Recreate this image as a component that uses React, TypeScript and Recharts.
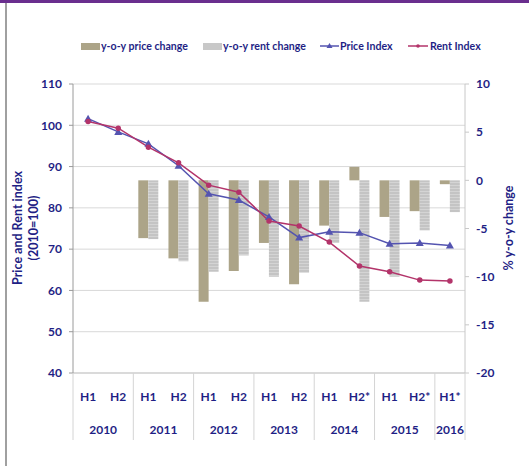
import React from "react";
import {
  Bar,
  CartesianGrid,
  ComposedChart,
  Label,
  Line,
  XAxis,
  YAxis,
} from "recharts";

const periods = ["H1", "H2", "H1", "H2", "H1", "H2", "H1", "H2", "H1", "H2*", "H1", "H2*", "H1*"];
const years = ["2010", "2010", "2011", "2011", "2012", "2012", "2013", "2013", "2014", "2014", "2015", "2015", "2016"];
const priceIndex = [101.6, 98.4, 95.5, 90.2, 83.4, 81.9, 77.8, 72.8, 74.2, 74.0, 71.3, 71.5, 70.9];
const rentIndex = [100.9, 99.3, 94.7, 90.9, 85.5, 83.8, 76.8, 75.6, 71.7, 65.9, 64.5, 62.5, 62.3];
const priceChange = [null, null, -6.0, -8.1, -12.6, -9.4, -6.5, -10.8, -4.7, 1.4, -3.8, -3.2, -0.4];
const rentChange = [null, null, -6.1, -8.4, -9.5, -7.8, -10.0, -9.6, -6.5, -12.6, -10.0, -5.2, -3.3];
const leftTicks = [40, 50, 60, 70, 80, 90, 100, 110];
const rightTicks = [-20, -15, -10, -5, 0, 5, 10];

const W = 529;
const H = 466;
const LEFT_W = 73;
const RIGHT_W = 64;
const TOP = 84;
const X_H = 93;
const PLOT_W = W - LEFT_W - RIGHT_W;

const NAVY = "#1f1f85";
const FONT = "Lato, 'DejaVu Sans', sans-serif";
const PRICE_BAR = "#aca488";
const RENT_BAR = "#c8c8c8";
const PRICE_LINE = "#5454b0";
const RENT_LINE = "#b3346a";

const data = periods.map((p, i) => ({
  cat: `${years[i]} ${p}`,
  priceIndex: priceIndex[i],
  rentIndex: rentIndex[i],
  priceChange: priceChange[i],
  rentChange: rentChange[i],
}));

function PeriodTick(props: any) {
  const { x, y, index } = props;
  const step = PLOT_W / periods.length;
  const year = years[index];
  const first = index === 0 || years[index - 1] !== year;
  const last = index === periods.length - 1;
  const span = years.filter((v) => v === year).length;
  const style = { fontFamily: FONT, fontWeight: 700, fontSize: 12, fill: NAVY };
  return (
    <g>
      <text x={x} y={y + 28} textAnchor="middle" style={style}>
        {periods[index]}
      </text>
      {first && (
        <line x1={x - step / 2} x2={x - step / 2} y1={y} y2={y + 67} stroke="#d4d4d4" />
      )}
      {first && (
        <text x={x + ((span - 1) * step) / 2} y={y + 61} textAnchor="middle" style={style}>
          {year}
        </text>
      )}
      {last && (
        <line x1={x + step / 2} x2={x + step / 2} y1={y} y2={y + 67} stroke="#d4d4d4" />
      )}
    </g>
  );
}

function TriangleDot(props: any) {
  const { cx, cy } = props;
  if (cx == null || cy == null) return null;
  return (
    <polygon
      points={`${cx},${cy - 4} ${cx - 4},${cy + 3} ${cx + 4},${cy + 3}`}
      fill={PRICE_LINE}
    />
  );
}

// legend drawn as html so it doesn't push the plot down
function LegendRow() {
  const txt: React.CSSProperties = {
    position: "absolute",
    top: 39,
    fontFamily: FONT,
    fontWeight: 700,
    fontSize: 10.6,
    lineHeight: "14px",
    color: NAVY,
    whiteSpace: "nowrap",
  };
  const swatch = (left: number, bg: string): React.CSSProperties => ({
    position: "absolute",
    left,
    top: 43,
    width: 19,
    height: 7,
    background: bg,
  });
  return (
    <>
      <div style={swatch(81, PRICE_BAR)} />
      <div style={{ ...txt, left: 101 }}>y-o-y price change</div>
      <div style={swatch(203, RENT_BAR)} />
      <div style={{ ...txt, left: 223 }}>y-o-y rent change</div>
      <svg width={19} height={10} style={{ position: "absolute", left: 320, top: 41 }}>
        <line x1={0} x2={19} y1={5} y2={5} stroke={PRICE_LINE} strokeWidth={1.5} />
        <polygon points="9.5,2 6.5,7 12.5,7" fill={PRICE_LINE} />
      </svg>
      <div style={{ ...txt, left: 340 }}>Price Index</div>
      <svg width={20} height={10} style={{ position: "absolute", left: 408, top: 41 }}>
        <line x1={0} x2={20} y1={5} y2={5} stroke={RENT_LINE} strokeWidth={1.5} />
        <circle cx={10} cy={5} r={1.8} fill={RENT_LINE} />
      </svg>
      <div style={{ ...txt, left: 430 }}>Rent Index</div>
    </>
  );
}

export default function App() {
  const tickStyle = { fill: NAVY, fontSize: 12, fontWeight: 700, fontFamily: FONT };
  return (
    <div style={{ position: "absolute", left: 0, top: 0, width: W, height: H, background: "#fff" }}>
      <div style={{ position: "absolute", left: 0, top: 0, width: W, height: 3, background: "#6a2e8e" }} />
      <div style={{ position: "absolute", left: 5, top: 3, width: 2, height: H - 3, background: "#a0a0a0" }} />
      <LegendRow />
      <ComposedChart
        width={W}
        height={H}
        data={data}
        margin={{ top: TOP, right: 0, bottom: 0, left: 0 }}
        barGap={0}
        barSize={10}
      >
        <defs>
          <pattern id="rentStripe" width={4} height={3} patternUnits="userSpaceOnUse">
            <rect width={4} height={3} fill="#c4c4c4" />
            <rect y={2} width={4} height={1} fill="#d4d4d4" />
          </pattern>
        </defs>
        <CartesianGrid yAxisId="left" vertical={false} stroke="#d9d9d9" />
        <XAxis
          dataKey="cat"
          height={X_H}
          interval={0}
          tickSize={0}
          tickMargin={0}
          tick={<PeriodTick />}
          stroke="#c8c8c8"
        />
        <YAxis
          yAxisId="left"
          width={LEFT_W}
          domain={[40, 110]}
          ticks={leftTicks}
          tickSize={4}
          tickMargin={7}
          tick={tickStyle}
          stroke="#9a9a9a"
        >
          <Label
            content={() => (
              <text
                transform={`translate(18, ${TOP + 144}) rotate(-90)`}
                textAnchor="middle"
                style={{ fontFamily: FONT, fontWeight: 700, fontSize: 12.5, fill: NAVY }}
              >
                <tspan x={0} dy="0.35em">Price and Rent index</tspan>
                <tspan x={0} dy="1.25em">(2010=100)</tspan>
              </text>
            )}
          />
        </YAxis>
        <YAxis
          yAxisId="right"
          orientation="right"
          width={RIGHT_W}
          domain={[-20, 10]}
          ticks={rightTicks}
          tickSize={4}
          tickMargin={7}
          tick={{ ...tickStyle, textAnchor: "start" }}
          stroke="#c8c8c8"
        >
          <Label
            content={() => (
              <text
                transform={`translate(508, ${TOP + 144}) rotate(-90)`}
                textAnchor="middle"
                dominantBaseline="central"
                style={{ fontFamily: FONT, fontWeight: 700, fontSize: 12.5, fill: NAVY }}
              >
                % y-o-y change
              </text>
            )}
          />
        </YAxis>
        <Bar
          yAxisId="right"
          dataKey="priceChange"
          name="y-o-y price change"
          fill={PRICE_BAR}
          isAnimationActive={false}
        />
        <Bar
          yAxisId="right"
          dataKey="rentChange"
          name="y-o-y rent change"
          fill="url(#rentStripe)"
          isAnimationActive={false}
        />
        <Line
          yAxisId="left"
          dataKey="priceIndex"
          name="Price Index"
          stroke={PRICE_LINE}
          strokeWidth={1.5}
          dot={<TriangleDot />}
          activeDot={false}
          isAnimationActive={false}
        />
        <Line
          yAxisId="left"
          dataKey="rentIndex"
          name="Rent Index"
          stroke={RENT_LINE}
          strokeWidth={1.5}
          dot={{ r: 2, fill: RENT_LINE, stroke: RENT_LINE }}
          activeDot={false}
          isAnimationActive={false}
        />
      </ComposedChart>
    </div>
  );
}
